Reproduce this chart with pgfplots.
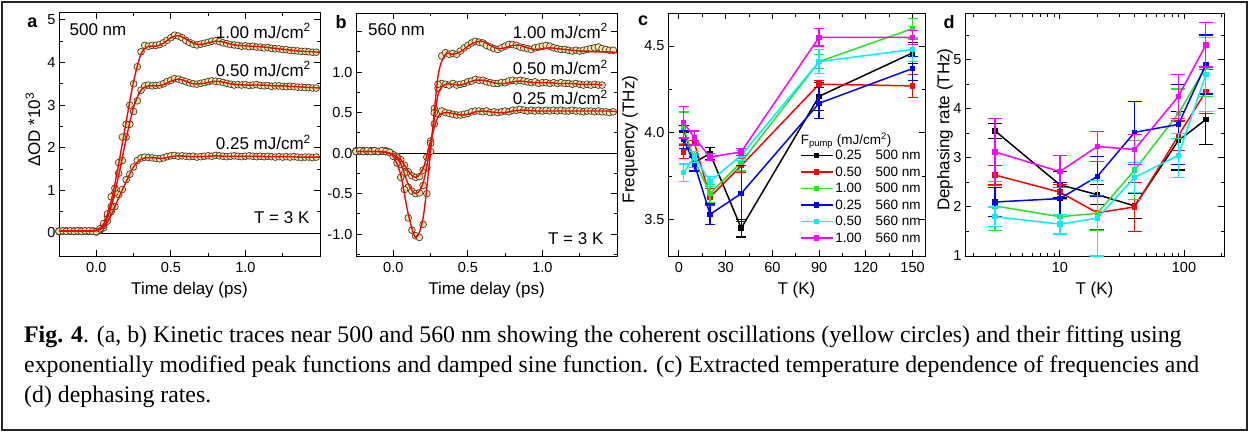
\documentclass[border=0pt]{standalone}
\usepackage{fontspec}
\setmainfont{Liberation Sans}
\newfontfamily\capfont{Liberation Serif}
\usepackage{pgfplots}
\usepackage{pgfplotstable}
\pgfplotsset{compat=1.18}

\definecolor{circfill}{RGB}{243,233,172}
\definecolor{circedge}{RGB}{70,60,35}
\definecolor{fitred}{RGB}{255,0,0}
\definecolor{cgreen}{RGB}{40,225,40}
\definecolor{cblue}{RGB}{0,0,255}
\definecolor{ccyan}{RGB}{0,240,255}
\definecolor{cmag}{RGB}{255,0,255}

\newcommand{\tlfont}{\fontsize{14.5}{16}\selectfont}
\newcommand{\lbfont}{\fontsize{17}{19}\selectfont}
\newcommand{\anfont}{\fontsize{17}{19}\selectfont}
\newcommand{\lgfont}{\fontsize{13.5}{15}\selectfont}

\pgfplotsset{
  panel/.style={
    scale only axis, height=243pt, anchor=south west,
    axis line style={line width=1pt},
    tick align=inside,
    major tick length=6pt, minor tick length=3.5pt,
    tick style={black, line width=0.9pt},
    tick label style={font=\tlfont},
    xticklabel style={yshift=-3pt},
    every axis x label/.style={at={(axis description cs:0.5,-0.14)}, anchor=center, font=\lbfont},
    every axis y label/.style={at={(axis description cs:-0.09,0.5)}, rotate=90, anchor=center, font=\lbfont},
    clip mode=individual,
  },
  dots/.style={only marks, mark=*, mark size=3.4pt,
    mark options={fill=circfill, draw=circedge, line width=0.7pt}},
  fit/.style={fitred, line width=1.4pt, smooth, no marks},
  ser/.style={#1, line width=1.5pt, mark=square*, mark size=2pt},
  eb/.style={error bars/.cd, y dir=both, y explicit,
    error bar style={line width=1.2pt},
    error mark options={rotate=90, mark size=#1, line width=1.2pt}},
}

% panel a: 500 nm, fits
\pgfplotstableread{
t f1 f2 f3
-0.25 0.05 0.05 0.04
-0.20 0.05 0.05 0.04
-0.15 0.05 0.05 0.04
-0.10 0.05 0.05 0.04
-0.05 0.05 0.05 0.04
0.00 0.07 0.06 0.05
0.05 0.22 0.18 0.13
0.10 0.75 0.62 0.42
0.15 1.62 1.35 0.82
0.20 2.60 2.20 1.20
0.25 3.55 2.95 1.55
0.30 4.20 3.35 1.73
0.35 4.38 3.45 1.77
0.40 4.38 3.45 1.76
0.45 4.45 3.48 1.75
0.50 4.58 3.56 1.79
0.55 4.63 3.61 1.81
0.60 4.55 3.56 1.80
0.65 4.45 3.50 1.79
0.70 4.42 3.50 1.79
0.75 4.46 3.53 1.80
0.80 4.50 3.56 1.81
0.85 4.48 3.54 1.80
0.90 4.43 3.50 1.80
0.95 4.40 3.48 1.80
1.00 4.39 3.47 1.80
1.05 4.38 3.47 1.80
1.10 4.37 3.47 1.80
1.15 4.35 3.46 1.79
1.20 4.33 3.45 1.79
1.25 4.31 3.45 1.79
1.30 4.29 3.44 1.79
1.35 4.27 3.43 1.78
1.40 4.26 3.42 1.78
1.45 4.25 3.41 1.78
1.50 4.24 3.40 1.78
}\afit

% panel a: measured points
\pgfplotstableread{
t d1 d2 d3
-0.250 0.04 0.05 0.03
-0.225 0.05 0.04 0.04
-0.200 0.04 0.05 0.05
-0.175 0.05 0.04 0.04
-0.150 0.04 0.05 0.03
-0.125 0.05 0.05 0.04
-0.100 0.04 0.04 0.05
-0.075 0.05 0.05 0.04
-0.050 0.05 0.04 0.04
-0.025 0.04 0.05 0.05
0.000 0.03 0.02 0.04
0.025 0.10 0.08 0.06
0.050 0.22 0.18 0.12
0.075 0.45 0.40 0.28
0.100 0.85 0.62 0.50
0.125 1.05 0.95 0.62
0.150 1.65 1.40 0.90
0.175 2.25 1.70 1.02
0.200 2.55 2.25 1.25
0.225 3.00 2.55 1.38
0.250 3.50 2.85 1.55
0.275 3.90 3.10 1.70
0.300 4.25 3.35 1.76
0.325 4.40 3.45 1.78
0.350 4.38 3.47 1.77
0.375 4.40 3.45 1.76
0.400 4.40 3.46 1.75
0.425 4.42 3.47 1.74
0.450 4.46 3.50 1.76
0.475 4.52 3.55 1.79
0.500 4.58 3.58 1.81
0.525 4.64 3.62 1.82
0.550 4.62 3.61 1.80
0.575 4.58 3.58 1.81
0.600 4.52 3.55 1.80
0.625 4.47 3.52 1.79
0.650 4.43 3.50 1.80
0.675 4.41 3.49 1.78
0.700 4.43 3.51 1.79
0.725 4.45 3.53 1.80
0.750 4.47 3.55 1.81
0.775 4.50 3.57 1.80
0.800 4.51 3.56 1.82
0.825 4.49 3.55 1.81
0.850 4.46 3.53 1.80
0.875 4.44 3.51 1.79
0.900 4.42 3.49 1.80
0.925 4.41 3.47 1.81
0.950 4.40 3.48 1.80
0.975 4.38 3.47 1.79
1.000 4.39 3.48 1.80
1.025 4.37 3.46 1.81
1.050 4.38 3.47 1.80
1.075 4.36 3.48 1.79
1.100 4.36 3.46 1.80
1.125 4.34 3.45 1.79
1.150 4.35 3.46 1.80
1.175 4.33 3.44 1.79
1.200 4.32 3.45 1.78
1.225 4.32 3.45 1.79
1.250 4.30 3.44 1.78
1.275 4.30 3.43 1.79
1.300 4.28 3.44 1.78
1.325 4.28 3.43 1.79
1.350 4.27 3.42 1.78
1.375 4.26 3.42 1.77
1.400 4.26 3.41 1.78
1.425 4.25 3.41 1.78
1.450 4.24 3.40 1.77
1.475 4.24 3.40 1.78
}\adat

% panel b: 560 nm, fits
\pgfplotstableread{
t f1 f2 f3
-0.25 0.02 0.02 0.02
-0.20 0.02 0.02 0.02
-0.15 0.02 0.02 0.02
-0.10 0.02 0.02 0.02
-0.05 0.01 0.01 0.01
0.00 -0.04 -0.02 -0.02
0.05 -0.27 -0.13 -0.08
0.10 -0.75 -0.38 -0.22
0.15 -1.04 -0.50 -0.30
0.20 -0.80 -0.37 -0.19
0.25 0.02 0.10 0.15
0.30 0.95 0.72 0.45
0.35 1.22 0.85 0.50
0.40 1.22 0.85 0.49
0.45 1.25 0.84 0.47
0.50 1.32 0.87 0.48
0.55 1.37 0.90 0.51
0.60 1.38 0.90 0.52
0.65 1.33 0.88 0.51
0.70 1.29 0.86 0.50
0.75 1.30 0.86 0.50
0.80 1.33 0.88 0.52
0.85 1.33 0.89 0.53
0.90 1.30 0.88 0.53
0.95 1.28 0.87 0.52
1.00 1.29 0.87 0.52
1.05 1.30 0.87 0.52
1.10 1.29 0.86 0.52
1.15 1.28 0.86 0.52
1.20 1.27 0.86 0.52
1.25 1.26 0.85 0.52
1.30 1.26 0.85 0.52
1.35 1.25 0.85 0.52
1.40 1.25 0.84 0.52
1.45 1.25 nan 0.52
1.50 1.24 nan 0.51
}\bfit

% panel b: measured points
\pgfplotstableread{
t d1 d2 d3
-0.250 0.02 0.03 0.02
-0.225 0.03 0.02 0.03
-0.200 0.02 0.03 0.02
-0.175 0.03 0.02 0.02
-0.150 0.02 0.02 0.03
-0.125 0.03 0.03 0.02
-0.100 0.02 0.02 0.02
-0.075 0.03 0.02 0.03
-0.050 0.02 0.03 0.02
-0.025 0.01 0.01 0.01
0.000 -0.04 -0.02 -0.02
0.025 -0.12 -0.06 -0.04
0.050 -0.30 -0.14 -0.08
0.075 -0.45 -0.25 -0.15
0.100 -0.80 -0.42 -0.23
0.125 -0.95 -0.47 -0.28
0.150 -1.02 -0.50 -0.30
0.175 -1.04 -0.49 -0.29
0.200 -0.88 -0.40 -0.21
0.225 -0.50 -0.18 -0.05
0.250 0.02 0.12 0.15
0.275 0.50 0.55 0.36
0.300 0.85 0.80 0.48
0.325 1.20 0.86 0.52
0.350 1.24 0.85 0.50
0.375 1.22 0.84 0.49
0.400 1.23 0.86 0.48
0.425 1.22 0.84 0.47
0.450 1.26 0.85 0.47
0.475 1.30 0.86 0.48
0.500 1.33 0.88 0.49
0.525 1.36 0.89 0.51
0.550 1.38 0.91 0.52
0.575 1.37 0.90 0.52
0.600 1.36 0.90 0.51
0.625 1.33 0.88 0.52
0.650 1.31 0.87 0.50
0.675 1.29 0.86 0.51
0.700 1.28 0.86 0.50
0.725 1.30 0.87 0.51
0.750 1.32 0.87 0.52
0.775 1.34 0.89 0.51
0.800 1.34 0.90 0.53
0.825 1.33 0.89 0.53
0.850 1.31 0.90 0.54
0.875 1.30 0.89 0.53
0.900 1.29 0.88 0.52
0.925 1.28 0.87 0.53
0.950 1.30 0.88 0.52
0.975 1.31 0.86 0.53
1.000 1.32 0.87 0.52
1.025 1.33 0.87 0.53
1.050 1.32 0.86 0.52
1.075 1.30 0.87 0.53
1.100 1.29 0.86 0.52
1.125 1.28 0.87 0.53
1.150 1.28 0.86 0.52
1.175 1.27 0.86 0.52
1.200 1.26 0.85 0.53
1.225 1.27 0.86 0.52
1.250 1.26 0.85 0.52
1.275 1.27 0.84 0.51
1.300 1.28 0.85 0.52
1.325 1.29 0.84 0.52
1.350 1.30 0.85 0.51
1.375 1.31 0.84 0.52
1.400 1.29 0.84 0.51
1.425 1.28 nan 0.51
1.450 1.27 nan 0.50
1.475 1.27 nan 0.51
}\bdat

\begin{document}
\begin{tikzpicture}[x=1pt,y=1pt]
\useasboundingbox (0,0) rectangle (1250,432);
\draw[line width=1.6pt, black!85] (2,2) rectangle (1247,430);

% ---- a ----
\begin{axis}[panel, at={(59pt,176pt)}, width=261pt,
  xmin=-0.25, xmax=1.5, ymin=-0.54, ymax=5.16,
  xtick={0,0.5,1}, xticklabels={0.0,0.5,1.0}, minor xtick={-0.25,0.25,0.75,1.25},
  ytick={0,1,2,3,4,5}, yticklabels={0,1,2,3,4,5}, minor ytick={0.5,1.5,2.5,3.5,4.5},
  xlabel={Time delay (ps)}, ylabel={ΔOD *10\textsuperscript{3}},
  ylabel style={at={(axis description cs:-0.1,0.52)}}]
\addplot[black, line width=0.9pt] coordinates {(-0.25,0) (1.5,0)};
\addplot[dots] table[x=t, y=d3] {\adat};
\addplot[dots] table[x=t, y=d2] {\adat};
\addplot[dots] table[x=t, y=d1] {\adat};
\addplot[fit] table[x=t, y=f3] {\afit};
\addplot[fit] table[x=t, y=f2] {\afit};
\addplot[fit] table[x=t, y=f1] {\afit};
\node[anchor=west, inner sep=0pt, font=\anfont] at (axis cs:-0.18,4.76) {500 nm};
\node[anchor=east, inner sep=0pt, font=\anfont] at (axis cs:1.44,4.74) {1.00 mJ/cm\textsuperscript{2}};
\node[anchor=east, inner sep=0pt, font=\anfont] at (axis cs:1.44,3.85) {0.50 mJ/cm\textsuperscript{2}};
\node[anchor=east, inner sep=0pt, font=\anfont] at (axis cs:1.44,2.13) {0.25 mJ/cm\textsuperscript{2}};
\node[anchor=east, inner sep=0pt, font=\anfont] at (axis cs:1.43,0.36) {T = 3 K};
\end{axis}

% ---- b ----
\begin{axis}[panel, at={(356pt,176pt)}, width=261pt,
  xmin=-0.25, xmax=1.5, ymin=-1.27, ymax=1.73,
  xtick={0,0.5,1}, xticklabels={0.0,0.5,1.0}, minor xtick={-0.25,0.25,0.75,1.25},
  ytick={-1,-0.5,0,0.5,1,1.5}, yticklabels={-1.0,-0.5,0.0,0.5,1.0,{}},
  minor ytick={-1.25,-0.75,-0.25,0.25,0.75,1.25},
  xlabel={Time delay (ps)}]
\addplot[black, line width=0.9pt] coordinates {(-0.25,0) (1.5,0)};
\addplot[dots] table[x=t, y=d3] {\bdat};
\addplot[dots] table[x=t, y=d2] {\bdat};
\addplot[dots] table[x=t, y=d1] {\bdat};
\addplot[fit] table[x=t, y=f3] {\bfit};
\addplot[fit] table[x=t, y=f2] {\bfit};
\addplot[fit] table[x=t, y=f1] {\bfit};
\node[anchor=west, inner sep=0pt, font=\anfont] at (axis cs:-0.17,1.52) {560 nm};
\node[anchor=east, inner sep=0pt, font=\anfont] at (axis cs:1.44,1.51) {1.00 mJ/cm\textsuperscript{2}};
\node[anchor=east, inner sep=0pt, font=\anfont] at (axis cs:1.44,1.06) {0.50 mJ/cm\textsuperscript{2}};
\node[anchor=east, inner sep=0pt, font=\anfont] at (axis cs:1.44,0.69) {0.25 mJ/cm\textsuperscript{2}};
\node[anchor=east, inner sep=0pt, font=\anfont] at (axis cs:1.41,-1.05) {T = 3 K};
\end{axis}

% ---- c ----
\begin{axis}[panel, at={(668pt,176pt)}, width=257pt,
  xmin=-7, xmax=158, ymin=3.29, ymax=4.69,
  xtick={0,30,60,90,120,150}, xticklabels={0,30,60,90,120,150},
  minor xtick={15,45,75,105,135},
  ytick={3.5,4,4.5}, yticklabels={3.5,4.0,4.5}, minor ytick={3.75,4.25},
  xlabel={T (K)}, ylabel={Frequency (THz)},
  ylabel style={at={(axis description cs:-0.148,0.48)}},
  legend style={at={(axis description cs:0.512,0.445)}, anchor=north west,
    draw=none, fill=none, font=\lgfont, row sep=1.6pt, inner sep=0pt},
  legend cell align=left,
  legend image code/.code={\draw[mark repeat=2, mark phase=2, #1, line width=1.5pt]
    plot coordinates {(0pt,0pt) (16pt,0pt) (32pt,0pt)};}]
\addplot[ser=black, eb=5pt] coordinates {
  (3,4.02) +- (0,0.02) (10,3.83) +- (0,0.03) (20,3.88) +- (0,0.035)
  (40,3.45) +- (0,0.05) (90,4.21) +- (0,0.08) (150,4.46) +- (0,0.06)};
\addlegendentry{0.25\hspace{14pt}500 nm}
\addplot[ser=fitred, eb=5pt] coordinates {
  (3,3.89) +- (0,0.04) (10,3.94) +- (0,0.015) (20,3.63) +- (0,0.05)
  (40,3.81) +- (0,0.04) (90,4.28) +- (0,0.02) (150,4.27) +- (0,0.065)};
\addlegendentry{0.50\hspace{14pt}500 nm}
\addplot[ser=cgreen, eb=5pt] coordinates {
  (3,4.03) +- (0,0.09) (10,3.84) +- (0,0.04) (20,3.65) +- (0,0.05)
  (40,3.83) +- (0,0.05) (90,4.41) +- (0,0.04) (150,4.60) +- (0,0.06)};
\addlegendentry{1.00\hspace{14pt}500 nm}
\addplot[ser=cblue, eb=5pt] coordinates {
  (3,3.96) +- (0,0.05) (10,3.82) +- (0,0.04) (20,3.53) +- (0,0.06)
  (40,3.65) +- (0,0.16) (90,4.17) +- (0,0.09) (150,4.37) +- (0,0.07)};
\addlegendentry{0.25\hspace{14pt}560 nm}
\addplot[ser=ccyan, eb=5pt] coordinates {
  (3,3.77) +- (0,0.05) (10,3.86) +- (0,0.03) (20,3.72) +- (0,0.03)
  (40,3.87) +- (0,0.03) (90,4.41) +- (0,0.07) (150,4.48) +- (0,0.07)};
\addlegendentry{0.50\hspace{14pt}560 nm}
\addplot[ser=cmag, eb=5pt] coordinates {
  (3,4.06) +- (0,0.09) (10,3.97) +- (0,0.04) (20,3.86) +- (0,0.02)
  (40,3.89) +- (0,0.02) (90,4.55) +- (0,0.05) (150,4.55) +- (0,0.04)};
\addlegendentry{1.00\hspace{14pt}560 nm}
\node[anchor=west, inner sep=0pt, font=\lgfont] at (axis description cs:0.516,0.475)
  {F\textsubscript{pump} (mJ/cm\textsuperscript{2})};
\end{axis}

% ---- d ----
\begin{axis}[panel, at={(965pt,176pt)}, width=259pt, xmode=log,
  xmin=1.72, xmax=210, ymin=1, ymax=5.95,
  xtick={10,100}, xticklabels={10,100},
  minor xtick={2,3,4,5,6,7,8,9,20,30,40,50,60,70,80,90,200},
  ytick={1,2,3,4,5}, yticklabels={1,2,3,4,5}, minor ytick={1.5,2.5,3.5,4.5,5.5},
  xlabel={T (K)}, ylabel={Dephasing rate (THz)},
  ylabel style={at={(axis description cs:-0.077,0.52)}}]
\addplot[ser=black, eb=7pt] coordinates {
  (3,3.55) +- (0,0.15) (10,2.45) +- (0,0.27) (20,2.25) +- (0,0.2)
  (40,2.02) +- (0,0.25) (90,3.35) +- (0,0.6) (150,3.78) +- (0,0.51)};
\addplot[ser=fitred, eb=7pt] coordinates {
  (3,2.65) +- (0,0.2) (10,2.3) +- (0,0.15) (20,1.88) +- (0,0.35)
  (40,2.0) +- (0,0.5) (90,3.45) +- (0,0.3) (150,4.35) +- (0,0.45)};
\addplot[ser=cgreen, eb=7pt] coordinates {
  (3,2.02) +- (0,0.5) (10,1.8) +- (0,0.35) (20,1.87) +- (0,0.35)
  (40,2.75) +- (0,0.6) (90,3.9) +- (0,0.5) (150,4.85) +- (0,0.6)};
\addplot[ser=cblue, eb=7pt] coordinates {
  (3,2.1) +- (0,0.3) (10,2.17) +- (0,0.32) (20,2.62) +- (0,0.4)
  (40,3.52) +- (0,0.62) (90,3.68) +- (0,0.82) (150,4.9) +- (0,0.6)};
\addplot[ser=ccyan, eb=7pt] coordinates {
  (3,1.8) +- (0,0.2) (10,1.65) +- (0,0.2) (20,1.77) +- (0,0.77)
  (40,2.6) +- (0,0.3) (90,3.05) +- (0,0.45) (150,4.7) +- (0,0.75)};
\addplot[ser=cmag, eb=7pt] coordinates {
  (3,3.12) +- (0,0.68) (10,2.72) +- (0,0.33) (20,3.23) +- (0,0.31)
  (40,3.17) +- (0,0.3) (90,4.25) +- (0,0.45) (150,5.3) +- (0,0.45)};
\end{axis}

% panel letters
\node[font=\bfseries\fontsize{18}{20}\selectfont] at (32.5,409) {a};
\node[font=\bfseries\fontsize{18}{20}\selectfont] at (341,410) {b};
\node[font=\bfseries\fontsize{18}{20}\selectfont] at (643,411) {c};
\node[font=\bfseries\fontsize{18}{20}\selectfont] at (949,410) {d};

% caption
\begin{scope}[every node/.style={anchor=base west, inner sep=0pt, font=\capfont\fontsize{23.8}{26}\selectfont}]
\node at (24,90) {\textbf{Fig. 4}. (a, b) Kinetic traces near 500 and 560 nm showing the coherent oscillations (yellow circles) and their fitting using};
\node at (24,60) {exponentially modified peak functions and damped sine function. (c) Extracted temperature dependence of frequencies and};
\node at (24,30) {(d) dephasing rates.};
\end{scope}
\end{tikzpicture}
\end{document}
